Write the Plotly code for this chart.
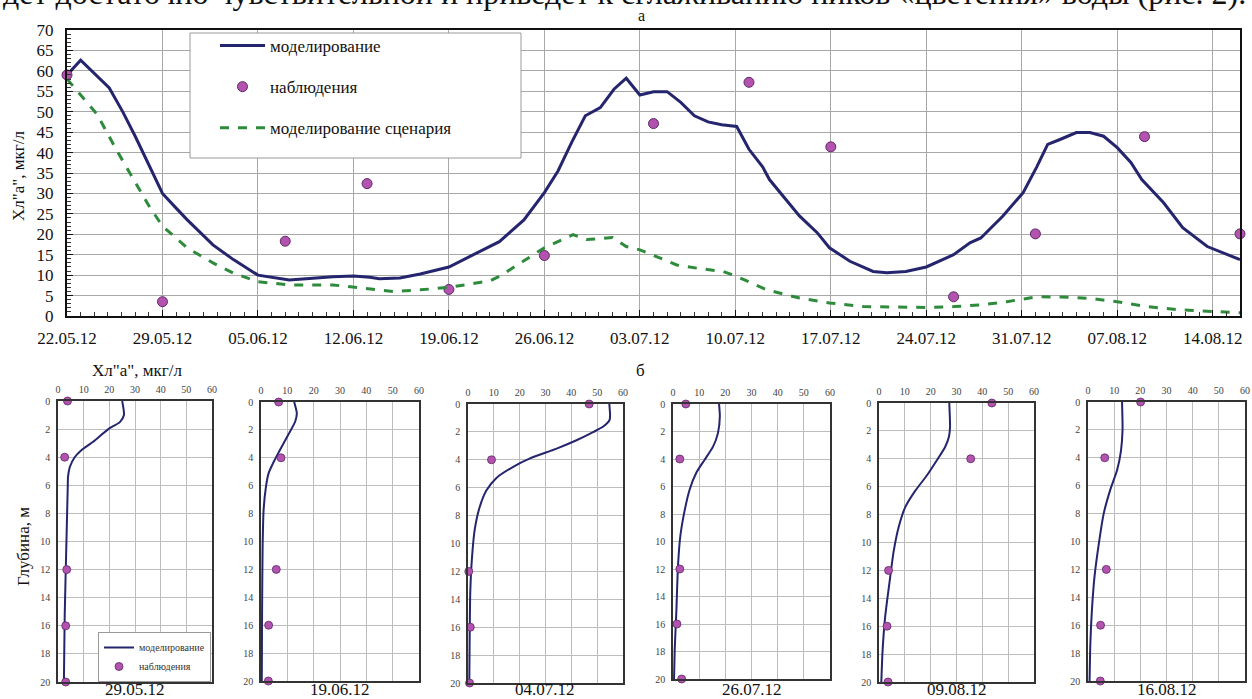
import pandas as pd
import plotly.graph_objects as go

W, H = 1252, 699
START = pd.Timestamp("2012-05-22")

# ---------------- top chart data (a) ----------------
model_days = [0, 1, 3.1, 4.1, 5, 6, 7, 8, 8.8, 10.7, 12.2, 14, 16.3, 19.5, 21, 22.2, 22.9,
              24.4, 25.9, 28, 29.5, 31.7, 33.5, 35, 36, 37, 38, 39.1, 40.1, 41, 42, 43,
              44, 45, 46, 47, 48, 49.1, 50, 51, 51.5, 52.5, 53.7, 55, 55.9, 57.4, 59.1,
              60.1, 61.5, 63, 65, 66.2, 67, 68.6, 70.1, 71.1, 71.9, 72.8, 74, 75, 76, 77,
              78, 78.8, 80.4, 81.8, 83.6, 86]
model_vals = [59, 62.6, 55.8, 49.9, 44, 37, 30, 26.4, 23.6, 17.4, 13.8, 10.0, 8.8, 9.6, 9.8,
              9.5, 9.1, 9.3, 10.3, 12, 14.5, 18.2, 23.5, 30.2, 35.5, 42.5, 49, 51, 55.5,
              58.2, 54.1, 54.9, 54.9, 52.3, 49, 47.5, 46.8, 46.4, 40.8, 36.5, 33.4, 29.3,
              24.5, 20.4, 16.7, 13.4, 10.9, 10.6, 10.9, 12, 15, 17.9, 19.1, 24.4, 30.2,
              36.5, 42, 43.2, 44.9, 44.9, 44, 41.2, 37.6, 33.4, 27.7, 21.6, 17, 13.8]

scen_days = [0, 1, 2.2, 3.6, 4.9, 6, 7, 8.8, 10.7, 12.2, 14, 16.3, 19.5, 21, 23.9, 25.9, 28,
             31, 31.7, 33.5, 35, 37.1, 38.1, 40, 41, 42, 44.7, 46.2, 48.1, 49.1, 51.3, 53.7,
             55.9, 58.4, 63, 65, 67, 68.9, 71.1, 73.5, 75, 77, 79.2, 81.6, 86]
scen_vals = [58, 54, 49.4, 40.8, 33.4, 27, 22, 16.7, 13, 10.5, 8.4, 7.6, 7.6, 7.1, 6.0, 6.4,
             7.0, 8.6, 9.7, 13.5, 16.7, 19.9, 18.7, 19.2, 17, 16.2, 12.5, 11.7, 10.9, 9.7,
             6.4, 4.4, 3.2, 2.3, 2.1, 2.3, 2.7, 3.5, 4.7, 4.6, 4.3, 3.5, 2.3, 1.5, 0.8]

obs_dates = ["2012-05-22", "2012-05-29", "2012-06-07", "2012-06-13", "2012-06-19",
             "2012-06-26", "2012-07-04", "2012-07-11", "2012-07-17", "2012-07-26",
             "2012-08-01", "2012-08-09", "2012-08-16"]
obs_vals = [59, 3.5, 18.3, 32.4, 6.5, 14.8, 47.1, 57.2, 41.4, 4.7, 20.1, 43.9, 20.1]

# ---------------- profile data (б) ----------------
profile_labels = ["29.05.12", "19.06.12", "04.07.12", "26.07.12", "09.08.12", "16.08.12"]
obs_depths = [0, 4, 12, 16, 20]

p1_depth = [0, 1, 1.5, 2, 2.9, 3.5, 4, 4.7, 5.4, 6.1, 9.9, 15.4, 20]
p1_model = [25, 25.7, 24.1, 19.6, 13.7, 9.1, 6.5, 4.6, 3.9, 3.8, 3.3, 2.6, 2.3]
p1_obs = [3.7, 2.6, 3.4, 3.0, 3.0]

p2_depth = [0, 0.8, 1.4, 2.3, 3.4, 4.3, 5.1, 6.05, 7.7, 10.6, 15.4, 20]
p2_model = [12.6, 13.6, 13.0, 10.5, 7.3, 4.8, 2.9, 1.9, 1.0, 0.6, 0.4, 0.3]
p2_obs = [6.7, 7.6, 5.8, 2.9, 2.8]

p3_depth = [0, 0.8, 1.15, 1.6, 2, 2.6, 3.2, 3.9, 4.5, 5.3, 6.2, 7.4, 9.0, 11, 13.35, 16.5, 20]
p3_model = [54.7, 55, 54.8, 52.5, 48.6, 42, 34.3, 24, 17.5, 11, 7.1, 4.5, 2.6, 1.55, 0.9, 0.65, 0.5]
p3_obs = [46.9, 9.1, 0.3, 0.9, 0.6]

p4_depth = [0, 0.9, 2.1, 3.1, 4.05, 5, 6.2, 7.7, 9.6, 11.8, 15, 17.9, 20]
p4_model = [17.6, 17.9, 17.2, 15.3, 12.1, 8.9, 6.4, 4.5, 2.8, 1.9, 1.3, 0.65, 0.4]
p4_obs = [4.9, 2.6, 2.6, 1.5, 3.3]

p5_depth = [0, 1.7, 2.4, 3.15, 4.1, 5.2, 6.3, 7.45, 8.9, 10.6, 12.95, 15.3, 17.7, 20]
p5_model = [27.2, 27.5, 27.1, 25.6, 22.4, 18.5, 14, 10.2, 7.6, 5.7, 4.0, 2.4, 1.4, 0.9]
p5_obs = [43.7, 35.5, 3.7, 3.1, 3.5]

p6_depth = [0, 2, 3.5, 4.9, 6.3, 8, 10.2, 12.5, 14.9, 17.3, 20]
p6_model = [13, 13.2, 12.6, 11.1, 8.5, 6, 4.1, 2.5, 1.5, 0.9, 0.6]
p6_obs = [20.1, 6.4, 7.0, 4.8, 4.7]

profiles = [(p1_depth, p1_model, p1_obs), (p2_depth, p2_model, p2_obs),
            (p3_depth, p3_model, p3_obs), (p4_depth, p4_model, p4_obs),
            (p5_depth, p5_model, p5_obs), (p6_depth, p6_model, p6_obs)]

# ---------------- styling ----------------
NAVY = "#25256E"
GREEN = "#2E8B3C"
PURPLE = "#B452B0"
PURPLE_EDGE = "#5B2A66"
SERIF = "Liberation Serif, Times New Roman, serif"
GRID = "#A8A8A8"


def px_x(p):
    return p / W


def px_y(p):
    return 1 - p / H


fig = go.Figure()

model_t = [START + pd.Timedelta(days=d) for d in model_days]
scen_t = [START + pd.Timedelta(days=d) for d in scen_days]

fig.add_trace(go.Scatter(x=model_t, y=model_vals, mode="lines", name="моделирование",
                         line=dict(color=NAVY, width=3), legendgroup="a1",
                         xaxis="x", yaxis="y"))
fig.add_trace(go.Scatter(x=obs_dates, y=obs_vals, mode="markers", name="наблюдения",
                         marker=dict(color=PURPLE, size=10, line=dict(color=PURPLE_EDGE, width=1)),
                         cliponaxis=False, legendgroup="a2", xaxis="x", yaxis="y"))
fig.add_trace(go.Scatter(x=scen_t, y=scen_vals, mode="lines", name="моделирование сценария",
                         line=dict(color=GREEN, width=3, dash="dash"), legendgroup="a3",
                         xaxis="x", yaxis="y"))

# profile panels
panel_px = [(58, 212, 401, 682), (261, 419, 402, 681), (468, 623, 404, 683),
            (673, 830, 404, 679), (879, 1034, 403, 682), (1088, 1245, 402, 681)]

layout_axes = {}
for i, ((dep, mod, ob), (x0, x1, y0, y1)) in enumerate(zip(profiles, panel_px)):
    n = i + 2
    xa, ya = f"x{n}", f"y{n}"
    fig.add_trace(go.Scatter(x=mod, y=dep, mode="lines", name="моделирование",
                             line=dict(color=NAVY, width=2, shape="spline", smoothing=0.6),
                             showlegend=(i == 0), legend="legend2", xaxis=xa, yaxis=ya))
    fig.add_trace(go.Scatter(x=ob, y=obs_depths, mode="markers", name="наблюдения",
                             marker=dict(color=PURPLE, size=8, line=dict(color=PURPLE_EDGE, width=0.8)),
                             cliponaxis=False, showlegend=(i == 0), legend="legend2",
                             xaxis=xa, yaxis=ya))
    layout_axes[f"xaxis{n}"] = dict(
        domain=[px_x(x0), px_x(x1)], anchor=ya, side="top", range=[0, 60], dtick=10,
        showgrid=True, gridcolor="#BDBDBD", gridwidth=1, showline=True, mirror=True,
        linecolor="#333333", linewidth=1.5, ticks="", zeroline=False, automargin=False,
        tickfont=dict(family=SERIF, size=10, color="#444444"), ticklabelstandoff=2)
    layout_axes[f"yaxis{n}"] = dict(
        domain=[px_y(y1), px_y(y0)], anchor=xa, range=[20, 0], dtick=2,
        showgrid=True, gridcolor="#BDBDBD", gridwidth=1, showline=True, mirror=True,
        linecolor="#333333", linewidth=1.5, ticks="", zeroline=False, automargin=False,
        tickfont=dict(family=SERIF, size=10, color="#444444"), ticklabelstandoff=4)


def note(text, x, y, size=17, angle=0, xanchor="center", yanchor="middle"):
    return dict(text=text, x=px_x(x), y=px_y(y), xref="paper", yref="paper",
                showarrow=False, textangle=angle, xanchor=xanchor, yanchor=yanchor,
                font=dict(family=SERIF, size=size, color="#111111"))


annotations = [
    note("дет достаточно чувствительной и приведет к сглаживанию пиков «цветения» воды (рис. 2).",
         624, -7, size=32),
    note("а", 641, 16, size=16),
    note("б", 640, 370),
    note("Хл\"а\", мкг/л", 137, 370),
    note("Хл\"а\", мкг/л", 18, 176, angle=-90),
    note("Глубина, м", 23, 547, angle=-90),
]
label_px = [135, 340, 545, 752, 957, 1167]
for lab, lx in zip(profile_labels, label_px):
    annotations.append(note(lab, lx, 701, yanchor="bottom"))

shapes = [
    dict(type="rect", xref="paper", yref="paper", x0=px_x(190), x1=px_x(521),
         y0=px_y(158), y1=px_y(33), fillcolor="white", line=dict(color="#9A9A9A", width=1),
         layer="above"),
]

fig.update_layout(
    width=W, height=H, margin=dict(l=0, r=0, t=0, b=0, autoexpand=False),
    paper_bgcolor="white", plot_bgcolor="white",
    showlegend=True,
    legend=dict(x=px_x(215), y=px_y(28), xanchor="left", yanchor="top",
                bgcolor="rgba(0,0,0,0)", borderwidth=0, traceorder="grouped",
                tracegroupgap=16, font=dict(family=SERIF, size=17, color="#111111"),
                itemwidth=45),
    legend2=dict(x=px_x(98), y=px_y(632), xanchor="left", yanchor="top",
                 bgcolor="white", bordercolor="#9A9A9A", borderwidth=1,
                 font=dict(family=SERIF, size=10, color="#333333"), itemwidth=30,
                 tracegroupgap=0),
    xaxis=dict(domain=[px_x(67), px_x(1240)], anchor="y", type="date", automargin=False,
               range=["2012-05-22", "2012-08-16"], tick0="2012-05-22", dtick=7 * 86400000,
               tickformat="%d.%m.%y", showgrid=True, gridcolor=GRID, gridwidth=1,
               showline=True, mirror=True, linecolor="#111111", linewidth=2,
               ticks="inside", ticklen=6, tickcolor="#111111",
               minor=dict(dtick=86400000, ticks="inside", ticklen=4, tickcolor="#333333",
                          showgrid=False),
               tickfont=dict(family=SERIF, size=17, color="#111111"), ticklabelstandoff=6,
               zeroline=False),
    yaxis=dict(domain=[px_y(316), px_y(30)], anchor="x", range=[0, 70], dtick=5,
               automargin=False,
               showgrid=True, gridcolor=GRID, gridwidth=1, showline=True, mirror=True,
               linecolor="#111111", linewidth=2, ticks="inside", ticklen=6,
               tickcolor="#111111",
               minor=dict(dtick=1, ticks="inside", ticklen=4, tickcolor="#333333",
                          showgrid=False),
               tickfont=dict(family=SERIF, size=17, color="#111111"), ticklabelstandoff=8,
               zeroline=False),
    annotations=annotations,
    shapes=shapes,
    **layout_axes,
)

fig.write_html("out.html", config={"displayModeBar": False},
               post_script="document.body.style.margin='0';document.body.style.overflow='hidden';")
